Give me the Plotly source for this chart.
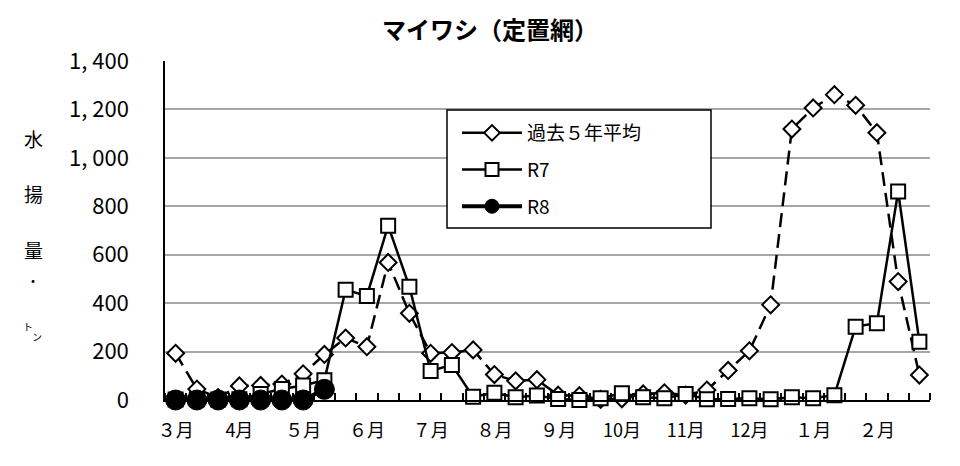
import plotly.graph_objects as go

# ---- data ----
months = ["３月", "4月", "５月", "６月", "７月", "８月", "９月", "10月", "11月", "12月", "１月", "２月"]
periods_per_month = 3  # 上旬・中旬・下旬
avg5 = [193, 45, 10, 58, 60, 66, 108, 188, 256, 220, 568, 358,
        193, 196, 207, 105, 79, 84, 20, 18, 3, 5, 25, 30,
        20, 41, 122, 203, 393, 1119, 1206, 1261, 1217, 1104, 489, 103]
r7 = [2, 3, 2, 3, 25, 45, 60, 82, 455, 430, 720, 468,
      120, 145, 13, 30, 11, 19, 4, 0, 7, 28, 11, 7,
      25, 3, 4, 7, 3, 11, 7, 20, 303, 317, 861, 241]
r8 = [0, 0, 0, 0, 0, 0, 0, 44]
y_ticks = [0, 200, 400, 600, 800, 1000, 1200, 1400]
y_tick_text = ["0", "200", "400", "600", "800", "1, 000", "1, 200", "1, 400"]
series_names = ["過去５年平均", "R7", "R8"]
ylabel_chars = ["水", "揚", "量", "・"]

FONT = "Noto Sans CJK JP"
n = len(avg5)
xs = list(range(n))

# page has an 8px body margin; the figure is placed at (8, 8)
OFF = 8
W, H = 960 - OFF, 466 - OFF
# plot area in page pixels
L, R, T, B = 165, 930, 61, 400
PW, PH = R - L, B - T


def px_x(px):
    return (px - L) / PW


def px_y(py):
    return (B - py) / PH


fig = go.Figure()
diamond_marker = dict(symbol="diamond", size=13, color="white", line=dict(color="black", width=2))
square_marker = dict(symbol="square", size=14, color="white", line=dict(color="black", width=2))
circle_marker = dict(symbol="circle", size=20, color="black", line=dict(color="black", width=1))

fig.add_trace(go.Scatter(
    x=xs, y=avg5, name=series_names[0], mode="lines+markers", showlegend=False,
    line=dict(color="black", width=2.5, dash="14px,7px"),
    marker=diamond_marker, cliponaxis=False))
fig.add_trace(go.Scatter(
    x=xs, y=r7, name=series_names[1], mode="lines+markers", showlegend=False,
    line=dict(color="black", width=2.5),
    marker=square_marker, cliponaxis=False))
fig.add_trace(go.Scatter(
    x=xs[:len(r8)], y=r8, name=series_names[2], mode="lines+markers", showlegend=False,
    line=dict(color="black", width=4),
    marker=circle_marker, cliponaxis=False))

# legend entries (solid line swatches, as in the original legend)
legend_styles = [
    (dict(color="black", width=2.5), dict(symbol="diamond", size=12, color="white", line=dict(color="black", width=2))),
    (dict(color="black", width=2.5), dict(symbol="square", size=13, color="white", line=dict(color="black", width=2))),
    (dict(color="black", width=4), dict(symbol="circle", size=14, color="black", line=dict(color="black", width=1))),
]
for i, (nm, (ln, mk)) in enumerate(zip(series_names, legend_styles)):
    fig.add_trace(go.Scatter(x=[None], y=[None], name=nm, mode="lines+markers",
                             line=ln, marker=mk, legendgroup=f"g{i}"))

month_pos = [i * periods_per_month for i in range(len(months))]

fig.update_layout(
    width=W, height=H,
    margin=dict(l=L - OFF, r=960 - R, t=T - OFF, b=466 - B),
    paper_bgcolor="white", plot_bgcolor="white",
    font=dict(family=FONT, color="black", size=16),
    title=dict(text="<b>マイワシ（定置網）</b>", x=(490 - OFF) / W, xref="container",
               y=1 - (31 - OFF) / H, yref="container", yanchor="middle", xanchor="center",
               font=dict(size=24, family=FONT, color="black")),
    showlegend=True,
    legend=dict(x=px_x(457), y=px_y(114), xanchor="left", yanchor="top",
                borderwidth=0, bgcolor="rgba(0,0,0,0)",
                font=dict(size=19, family=FONT), itemwidth=60, tracegroupgap=9),
    xaxis=dict(range=[-0.5, n - 0.5], tickmode="array", tickvals=month_pos, ticktext=months,
               showgrid=False, zeroline=False, showline=True, linecolor="black", linewidth=1.5,
               ticks="", tickfont=dict(size=18, family=FONT), ticklabelstandoff=14,
               automargin=False,
               minor=dict(tick0=-0.5, dtick=1, ticks="inside", ticklen=7,
                          tickcolor="black", tickwidth=1.5, showgrid=False)),
    yaxis=dict(range=[0, 1400], tickmode="array", tickvals=y_ticks, ticktext=y_tick_text,
               showgrid=True, gridcolor="#a6a6a6", gridwidth=1.5, zeroline=False,
               showline=True, linecolor="black", linewidth=1.5, ticks="",
               tickfont=dict(size=22, family=FONT), ticklabelstandoff=30,
               automargin=False),
    shapes=[dict(type="rect", xref="paper", yref="paper",
                 x0=px_x(447), x1=px_x(711), y0=px_y(228), y1=px_y(110),
                 line=dict(color="black", width=1.5), fillcolor="white", layer="above")],
)

ylab_pos = [(33, 138), (33, 193), (33, 249), (33, 280)]
ylab_size = [19, 19, 19, 14]
for ch, (ax, ay), sz in zip(ylabel_chars, ylab_pos, ylab_size):
    fig.add_annotation(text=ch, x=px_x(ax), y=px_y(ay), xref="paper", yref="paper",
                       showarrow=False, font=dict(size=sz, family=FONT, color="black"),
                       xanchor="center", yanchor="middle")
for ch, (ax, ay) in zip(["ト", "ン"], [(28, 326), (37, 336)]):
    fig.add_annotation(text=ch, x=px_x(ax), y=px_y(ay), xref="paper", yref="paper",
                       showarrow=False, font=dict(size=10, family=FONT, color="black"),
                       xanchor="center", yanchor="middle")

fig.write_html("out.html")
